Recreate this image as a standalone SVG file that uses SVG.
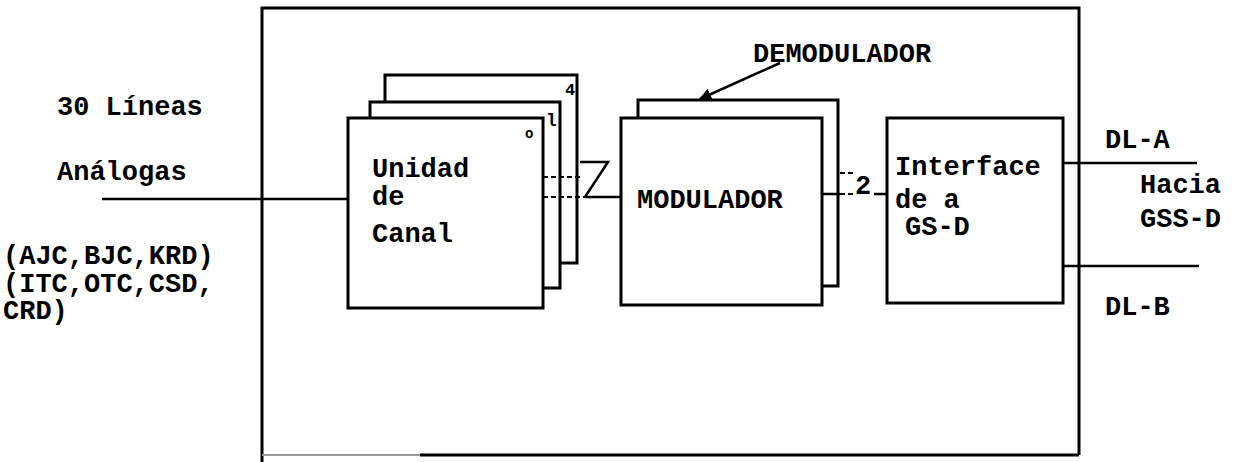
<svg xmlns="http://www.w3.org/2000/svg" width="1241" height="462" viewBox="0 0 1241 462">
<defs>
<style>
.t{font-family:"Liberation Mono","DejaVu Sans Mono",monospace;font-size:27px;font-weight:bold;fill:#000}
.s{font-family:"Liberation Mono","DejaVu Sans Mono",monospace;font-weight:bold;fill:#000}
.b{fill:none;stroke:#000;stroke-width:3;stroke-linejoin:miter}
.c{fill:none;stroke:#000;stroke-width:2.5}
.d{fill:none;stroke:#000;stroke-width:2;stroke-dasharray:5 3}
</style>
<marker id="ah" viewBox="0 0 10 10" refX="9" refY="5" markerWidth="5" markerHeight="5" orient="auto" markerUnits="strokeWidth">
<path d="M0,0 L10,5 L0,10 z" fill="#000"/>
</marker>
</defs>
<rect width="1241" height="462" fill="#fff"/>

<g id="enclosure">
<path class="b" d="M262,462 V8 H1079 V455"/>
<path d="M262,455 H420" fill="none" stroke="#999" stroke-width="2"/>
<path class="b" d="M420,455 H1079"/>
</g>

<g id="labels-left">
<text class="t" x="57" y="115">30 Líneas</text>
<text class="t" x="57" y="180">Análogas</text>
<text class="t" x="3" y="264">(AJC,BJC,KRD)</text>
<text class="t" x="3" y="292">(ITC,OTC,CSD,</text>
<text class="t" x="3" y="319"> CRD)</text>
</g>

<g id="unidad-canal">
<path class="b" d="M385,102 V75 H577 V263 H560"/>
<path class="b" d="M370,118 V102 H560 V288 H543"/>
<rect class="b" x="348" y="118" width="195" height="190" fill="#fff"/>
<text class="t" x="372" y="177">Unidad</text>
<text class="t" x="372" y="205">de</text>
<text class="t" x="372" y="242">Canal</text>
<text class="s" x="525" y="138" font-size="14">o</text>
<text class="s" x="546" y="126" font-size="18">l</text>
<text class="s" x="565" y="95" font-size="17">4</text>
</g>

<g id="modulador">
<path class="b" d="M638,118 V100 H838 V286 H822"/>
<rect class="b" x="621" y="118" width="201" height="187" fill="#fff"/>
<text class="t" x="637" y="208" font-size="28">MODULADOR</text>
</g>

<g id="demodulador-label">
<text class="t" x="753" y="62">DEMODULADOR</text>
<line x1="780" y1="63" x2="700" y2="99" stroke="#000" stroke-width="2.5" marker-end="url(#ah)"/>
</g>

<g id="interface">
<rect class="b" x="887" y="118" width="176" height="185" fill="#fff"/>
<text class="t" x="895" y="175">Interface</text>
<text class="t" x="895" y="208">de a</text>
<text class="t" x="905" y="235">GS-D</text>
</g>

<g id="connectors">
<path class="c" d="M102,199 H348"/>
<path class="d" d="M543,177 H580"/>
<path class="d" d="M543,197 H585"/>
<path class="c" d="M585,197 H621"/>
<path class="c" d="M580,162 H608 L585,197" stroke-width="3.5"/>
<path class="c" d="M822,194 H840"/>
<path class="d" d="M840,194 H856"/>
<path class="d" d="M840,173 H856"/>
<path class="c" d="M874,194 H887"/>
<path class="c" d="M1063,163 H1197"/>
<path class="c" d="M1063,266 H1199"/>
</g>

<g id="connector-labels">
<text class="t" x="855" y="194" font-size="29">2</text>
<text class="t" x="1105" y="148">DL-A</text>
<text class="t" x="1140" y="193" font-size="26">Hacia</text>
<text class="t" x="1140" y="227" font-size="26">GSS-D</text>
<text class="t" x="1105" y="315">DL-B</text>
</g>
</svg>
